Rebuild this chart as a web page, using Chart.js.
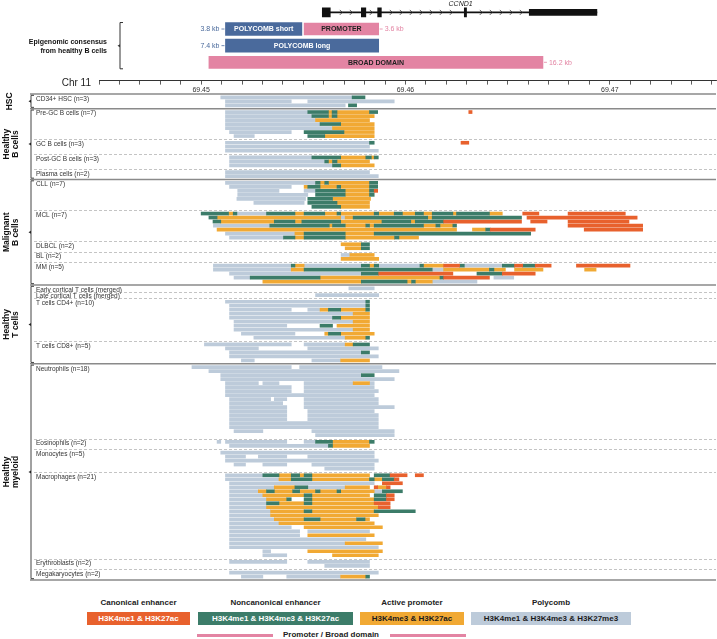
<!DOCTYPE html>
<html>
<head>
<meta charset="utf-8">
<script src="https://cdn.jsdelivr.net/npm/chart.js@4.4.1/dist/chart.umd.min.js"></script>
<style>
  body { margin: 0; background: #fff; font-family: "Liberation Sans", Arial, sans-serif; }
  #wrap { position: relative; width: 717px; height: 639px; overflow: hidden; }
  #topChart { position: absolute; left: 0; top: 0; }
  #rowsChart { position: absolute; left: 0; top: 80px; }
  .lg-title { position: absolute; top: 597px; height: 12px; line-height: 12px; font-size: 8px; font-weight: bold; color: #222; text-align: center; }
  .lg-box { position: absolute; top: 612px; height: 13px; line-height: 13px; font-size: 8px; font-weight: bold; text-align: center; }
  .lg-line { position: absolute; top: 634px; height: 3px; background: #e384a3; }
  .lg-pink { position: absolute; top: 630px; width: 110px; height: 10px; line-height: 10px; font-size: 8px; font-weight: bold; color: #222; text-align: center; }
</style>
</head>
<body>
<div id="wrap">
  <canvas id="topChart" width="717" height="95"></canvas>
  <canvas id="rowsChart" width="717" height="506"></canvas>
  <div id="legend"></div>
</div>
<script>
// all positions are in kb from chr11:69,450,000
const P = 'P', A = 'A', N = 'N', C = 'C';

const tickLabels = ['69.45', '69.46', '69.47'];
const tickLabelPos = [0, 10, 20];

const geneSpan = [5.93, 19.37];
const geneExons = [[5.93, 6.32], [7.84, 8.06], [8.64, 8.82], [12.88, 12.99]];
const geneUtr = [[16.06, 19.37]];

const consensusLabels = ['POLYCOMB short', 'PROMOTER', 'POLYCOMB long', 'BROAD DOMAIN'];
const consensusStart = [1.19, 5.04, 1.19, 0.38];
const consensusEnd = [4.93, 8.69, 8.69, 16.73];
const consensusSize = ['3.8 kb', '3.6 kb', '7.4 kb', '16.2 kb'];
const consensusKind = ['polycomb', 'promoter', 'polycomb', 'promoter'];

const stateKeys = [C, N, A, P];
const stateNames = ['Canonical enhancer', 'Noncanonical enhancer', 'Active promoter', 'Polycomb'];
const stateMarks = ['H3K4me1 & H3K27ac', 'H3K4me1 & H3K4me3 & H3K27ac', 'H3K4me3 & H3K27ac', 'H3K4me1 & H3K4me3 & H3K27me3'];

// one array per cell type, one entry per sample, [start, end, state]
const hscCD34 = [
  [[0.96, 7.39, P], [7.39, 8.02, N]],
  [[1.19, 4.41, P], [5.22, 9.45, P]],
  [[1.19, 7.05, P], [7.21, 7.61, N]]
];
const preGC = [
  [[1.19, 5.22, P], [5.22, 6.23, N], [6.23, 6.41, A], [6.41, 6.65, N], [6.65, 8.24, A], [8.24, 8.64, N], [13.10, 13.26, C]],
  [[1.19, 5.42, P], [5.42, 6.23, N], [6.23, 6.41, A], [6.41, 6.65, N], [6.65, 8.47, A]],
  [[1.19, 5.60, P], [5.60, 8.24, A]],
  [[1.19, 5.82, P], [5.82, 6.83, N], [6.83, 8.47, A]],
  [[1.19, 6.43, P], [6.43, 8.47, A]],
  [[1.39, 4.41, P], [5.04, 6.99, N], [6.99, 8.47, A]],
  [[1.61, 2.60, P], [5.22, 6.05, N], [6.05, 8.47, A]]
];
const gcB = [
  [[1.19, 8.24, P], [8.24, 8.47, N], [12.72, 13.10, C]],
  [[1.19, 8.24, P]],
  [[1.19, 8.67, P]]
];
const postGC = [
  [[1.39, 5.42, P], [5.42, 6.83, N], [6.83, 8.06, A], [8.06, 8.33, N], [8.33, 8.47, A], [8.47, 8.67, N]],
  [[1.39, 6.05, P], [6.05, 6.23, N], [6.23, 6.43, A], [6.43, 6.65, N], [6.65, 8.24, A]],
  [[1.39, 6.43, P], [6.43, 6.83, N], [6.83, 8.47, A]]
];
const plasma = [
  [[1.19, 8.24, P]],
  [[1.19, 8.67, P]]
];
const cll = [
  [[1.19, 5.60, P], [5.60, 5.82, N], [5.82, 6.05, A], [6.05, 6.23, N], [6.23, 8.24, A], [8.24, 8.64, N]],
  [[1.39, 4.41, P], [5.04, 5.22, A], [5.22, 5.82, N], [5.82, 6.65, A], [6.65, 6.83, N], [6.83, 8.24, A], [8.24, 8.64, N]],
  [[1.79, 3.81, P], [5.04, 5.60, P], [5.60, 7.05, N], [7.05, 8.24, A], [8.24, 8.47, N], [8.47, 8.64, C]],
  [[1.79, 5.22, P], [5.60, 7.05, N], [7.05, 8.24, A], [8.24, 8.47, N]],
  [[1.75, 5.11, P], [5.22, 6.43, N], [6.43, 8.29, A]],
  [[2.58, 5.04, P], [5.22, 6.65, N], [6.65, 8.24, A]],
  [[5.42, 6.83, N], [6.83, 8.24, A]]
];
const mcl = [
  [[0.00, 1.34, N], [1.34, 1.57, A], [1.57, 1.75, N], [1.75, 3.20, P], [3.20, 4.59, N], [4.59, 5.04, A], [5.04, 6.05, N], [6.05, 6.65, A], [6.65, 6.83, N], [6.83, 8.47, A], [8.47, 8.69, N], [8.69, 9.45, A], [9.45, 9.85, N], [9.85, 10.48, A], [10.48, 10.88, N], [10.88, 11.31, A], [11.31, 12.32, N], [12.32, 12.50, A], [12.50, 14.11, N], [14.11, 14.74, A], [15.74, 16.53, C], [17.96, 20.76, C]],
  [[0.38, 0.78, N], [0.78, 6.83, A], [6.83, 7.05, P], [7.05, 7.44, A], [7.44, 11.09, N], [11.09, 11.31, A], [11.31, 15.68, N], [15.95, 21.34, C]],
  [[0.58, 0.96, N], [0.96, 3.58, A], [3.58, 4.59, N], [4.59, 4.93, A], [4.93, 6.83, N], [6.83, 8.85, A], [8.85, 10.26, N], [10.26, 10.48, A], [10.48, 11.87, N], [11.87, 15.68, C], [16.13, 16.93, C], [17.96, 20.94, C]],
  [[0.60, 3.36, P], [3.36, 6.27, N], [6.27, 6.43, A], [6.43, 7.05, N], [7.05, 8.06, A], [8.06, 8.24, N], [8.24, 8.47, A], [8.47, 10.88, N], [10.88, 11.49, A], [11.49, 11.69, N], [11.69, 12.32, A], [12.32, 12.50, N], [17.96, 21.61, C]],
  [[0.78, 12.50, A], [13.28, 13.93, A], [13.93, 14.15, N], [14.15, 16.35, C], [18.75, 21.61, C]],
  [[1.19, 4.59, P], [4.59, 5.04, A], [5.04, 7.05, N], [7.05, 8.47, A], [8.47, 16.13, N]],
  [[1.39, 4.03, P], [4.03, 4.59, N], [4.59, 5.04, A], [5.04, 7.05, N], [7.05, 9.47, A], [9.47, 9.68, N], [9.68, 10.64, A]]
];
const dlbcl = [
  [[6.85, 7.84, A], [7.84, 8.24, N]],
  [[7.05, 7.84, A], [7.84, 8.24, N]]
];
const bl = [
  [[6.85, 7.28, P], [7.28, 8.47, A]],
  [[6.85, 8.69, A]]
];
const mm = [
  [[0.60, 4.41, P], [4.41, 4.59, N], [4.59, 5.04, A], [5.04, 7.84, P], [7.84, 8.24, N], [8.24, 8.47, A], [8.47, 8.69, N], [8.69, 10.71, P], [10.71, 10.88, N], [10.88, 11.87, A], [11.87, 12.65, C], [12.65, 12.88, N], [12.88, 14.74, P], [14.74, 15.34, N], [15.34, 15.74, C], [15.74, 16.35, N], [16.35, 17.13, C], [18.37, 20.99, C]],
  [[0.60, 4.41, P], [4.41, 5.04, A], [5.04, 11.31, N], [11.31, 11.87, P], [11.87, 14.11, A], [14.11, 14.33, N], [14.33, 14.89, A], [15.34, 16.73, A], [18.77, 19.33, A]],
  [[1.39, 7.84, P], [7.84, 8.69, N], [8.69, 12.32, C], [13.50, 14.74, N], [14.74, 16.35, C]],
  [[1.61, 2.40, P], [2.40, 5.82, N], [5.82, 11.69, A], [11.69, 11.87, N], [11.87, 14.11, C], [14.33, 15.30, P]],
  [[3.02, 7.84, A], [7.84, 10.08, N], [10.08, 10.30, A], [10.30, 10.48, N], [10.48, 11.31, A], [11.31, 13.50, P]]
];
const earlyT = [
  [[7.23, 8.47, P]]
];
const lateT = [
  [[5.60, 8.69, P]]
];
const cd4 = [
  [[1.19, 8.06, P], [8.06, 8.24, N]],
  [[1.39, 8.06, P], [8.06, 8.24, N]],
  [[1.39, 4.41, P], [5.22, 5.82, P], [5.82, 6.23, A], [6.23, 6.83, N], [6.83, 8.06, A], [8.06, 8.24, N]],
  [[1.39, 7.44, P], [7.44, 8.24, A]],
  [[1.39, 6.43, P], [6.43, 6.83, N], [6.83, 8.24, A]],
  [[1.61, 7.44, P], [7.44, 8.24, A]],
  [[1.61, 4.19, P], [5.82, 6.43, N], [6.65, 8.24, A]],
  [[1.61, 7.44, P], [7.44, 8.24, A]],
  [[1.97, 4.59, P], [6.05, 6.23, A], [6.23, 6.83, N], [6.83, 8.47, A]],
  [[2.58, 7.05, P], [7.05, 8.06, A], [8.06, 8.24, N]]
];
const cd8 = [
  [[0.16, 4.41, P], [5.04, 7.05, P], [7.05, 7.44, A], [7.44, 8.24, N]],
  [[1.19, 2.80, P], [5.22, 8.67, P]],
  [[1.39, 7.84, P], [7.84, 8.24, N]],
  [[1.39, 8.67, P]],
  [[1.97, 2.60, P], [5.42, 6.83, P], [6.83, 8.24, A]]
];
const neutro = [
  [[-0.45, 4.41, P], [4.82, 8.85, P]],
  [[0.38, 9.68, P]],
  [[0.96, 7.84, P], [7.84, 8.47, N]],
  [[0.96, 9.45, P]],
  [[1.19, 2.80, P], [3.02, 3.81, P], [5.04, 7.44, P], [7.44, 8.24, A], [8.24, 8.47, P]],
  [[1.19, 4.41, P], [5.04, 8.47, P]],
  [[1.19, 4.41, P], [5.04, 8.67, P]],
  [[1.19, 8.47, P]],
  [[1.39, 3.40, P], [3.58, 4.19, P], [5.04, 8.67, P]],
  [[1.39, 3.99, P], [5.04, 8.67, P]],
  [[1.39, 4.19, P], [5.04, 9.45, P]],
  [[1.39, 4.19, P], [5.22, 8.47, P]],
  [[1.39, 4.19, P], [5.22, 8.67, P]],
  [[1.39, 4.19, P], [5.22, 8.67, P]],
  [[1.39, 8.67, P]],
  [[1.39, 8.67, P]],
  [[1.61, 3.02, P], [5.42, 9.45, P]],
  [[5.60, 9.45, P]]
];
const eos = [
  [[0.78, 0.96, P], [1.19, 4.19, P], [5.04, 5.60, P], [5.60, 6.43, N], [6.43, 8.24, A], [8.24, 8.47, N]],
  [[1.39, 6.23, P], [6.23, 6.43, N], [6.43, 8.24, A]]
];
const mono = [
  [[0.96, 8.47, P]],
  [[1.19, 2.17, P], [2.80, 4.19, P], [5.22, 8.47, P]],
  [[1.19, 8.67, P]],
  [[1.61, 2.17, P], [3.02, 4.19, P], [5.42, 8.47, P]],
  [[6.05, 8.47, P]]
];
const macro = [
  [[1.19, 3.02, P], [3.02, 3.81, N], [3.81, 4.41, A], [4.41, 4.82, N], [4.82, 5.04, A], [5.04, 5.42, N], [5.42, 8.24, A], [8.47, 9.25, N], [9.25, 10.08, C], [10.48, 10.88, C]],
  [[1.19, 3.81, P], [3.81, 4.41, A], [4.41, 5.42, N], [5.42, 8.24, A], [8.24, 8.47, N], [8.47, 8.87, A], [8.87, 9.45, N], [9.45, 9.68, C]],
  [[1.39, 8.47, P], [8.87, 9.85, C]],
  [[1.39, 3.58, P], [3.58, 4.59, A], [4.59, 5.22, N], [5.22, 7.05, P], [7.05, 8.24, A], [8.47, 8.64, C], [8.64, 9.07, A], [9.07, 9.25, C]],
  [[1.39, 2.80, P], [2.80, 3.20, A], [3.20, 3.58, N], [3.58, 4.48, A], [4.48, 4.82, N], [4.82, 5.60, A], [5.60, 5.82, N], [5.82, 6.65, A], [6.65, 6.83, N], [6.83, 8.47, A], [8.47, 8.87, P], [8.87, 9.85, N]],
  [[1.39, 3.02, P], [3.02, 5.04, A], [5.04, 5.42, N], [5.42, 8.24, A], [8.47, 9.07, N], [9.07, 9.45, C]],
  [[1.39, 3.20, P], [3.20, 4.19, A], [4.19, 4.41, N], [5.04, 5.42, N], [5.42, 8.47, A], [8.47, 9.07, N], [9.07, 9.45, C]],
  [[1.39, 3.20, P], [3.20, 3.81, N], [3.81, 5.04, A], [5.04, 5.42, N], [5.42, 8.47, A], [8.47, 9.25, C]],
  [[1.39, 3.20, P], [3.20, 8.67, A], [8.67, 9.25, C]],
  [[1.39, 3.40, P], [3.40, 5.04, A], [5.04, 5.42, N], [5.42, 8.47, A], [8.47, 10.48, N]],
  [[1.39, 3.40, P], [3.40, 8.67, A]],
  [[1.39, 3.58, P], [3.58, 5.04, A], [5.04, 5.82, N], [5.82, 7.61, A], [7.61, 8.02, N], [8.02, 8.24, A]],
  [[1.39, 3.81, P], [3.81, 8.47, A]],
  [[1.39, 4.41, P], [5.04, 8.87, A]],
  [[1.39, 4.82, P], [5.22, 8.24, P]],
  [[1.39, 4.82, P], [5.22, 8.47, A]],
  [[1.39, 8.06, P]],
  [[1.39, 7.05, P], [7.05, 8.87, A]],
  [[1.39, 8.67, P]],
  [[3.02, 3.40, P], [5.22, 8.87, A]],
  [[3.02, 4.19, P], [6.43, 8.67, A]]
];
const ery = [
  [[1.39, 4.19, P], [5.22, 8.24, P]],
  [[6.05, 8.24, P]]
];
const mega = [
  [[1.39, 8.67, P]],
  [[1.97, 3.02, P], [4.19, 6.83, P], [6.83, 8.06, A], [8.06, 8.24, N]]
];

const groups = [
  { title: ['HSC'], subs: [['CD34+ HSC (n=3)', hscCD34]] },
  { title: ['Healthy', 'B cells'], subs: [['Pre-GC B cells (n=7)', preGC], ['GC B cells (n=3)', gcB], ['Post-GC B cells (n=3)', postGC], ['Plasma cells (n=2)', plasma]] },
  { title: ['Malignant', 'B cells'], subs: [['CLL (n=7)', cll], ['MCL (n=7)', mcl], ['DLBCL (n=2)', dlbcl], ['BL (n=2)', bl], ['MM (n=5)', mm]] },
  { title: ['Healthy', 'T cells'], subs: [['Early cortical T cells (merged)', earlyT], ['Late cortical T cells (merged)', lateT], ['T cells CD4+ (n=10)', cd4], ['T cells CD8+ (n=5)', cd8]] },
  { title: ['Healthy', 'myeloid'], subs: [['Neutrophils (n=18)', neutro], ['Eosinophils (n=2)', eos], ['Monocytes (n=5)', mono], ['Macrophages (n=21)', macro], ['Erythroblasts (n=2)', ery], ['Megakaryocytes (n=2)', mega]] }
];

// ---- styles / layout ----
const stateColors = { C: '#e8612d', N: '#3c7c69', A: '#f1a934', P: '#bdcbda' };
const BLUE = '#4a6a9c', PINK = '#e384a3';
const FONT = '"Liberation Sans", Arial, sans-serif';
const GAP = 0.675;
const consensusRow = [1, 1, 2, 3];
const X_MIN = -5, X_MAX = 25.2;
const TOP_Y = [-0.745, 4.1];
const ROWS_Y = [-0.5875, 122.1625];

Chart.defaults.font.family = FONT;

// pin a scale to exact bounds (no nice-number rounding)
const pin = (lo, hi) => ({
  min: lo, max: hi, bounds: 'data', offset: false, grace: 0,
  afterDataLimits: s => { s.min = lo; s.max = hi; },
  afterBuildTicks: s => { s.min = lo; s.max = hi; }
});

// row layout (y in row units)
const points = { C: [], N: [], A: [], P: [] };
const subLayout = [];
const groupLayout = [];
let cursor = 0;
groups.forEach(g => {
  const gFirst = cursor;
  g.subs.forEach(([label, rows]) => {
    const first = cursor;
    rows.forEach((segs, ri) => {
      segs.forEach(([s, e, st]) => points[st].push({ x: [s, e], y: first + ri }));
    });
    subLayout.push({ label, first, last: first + rows.length - 1 });
    cursor += rows.length + GAP;
  });
  groupLayout.push({ title: g.title, first: gFirst, last: cursor - GAP - 1, nSubs: g.subs.length });
});

const rulerTicks = [];
for (let v = -5; v <= 25; v++) rulerTicks.push(v);

// ---- top chart: gene, consensus, ruler ----
const topDecor = {
  id: 'topDecor',
  afterDatasetsDraw(chart) {
    const { ctx, scales: { x, y } } = chart;
    ctx.save();
    // intron chevrons
    const gy = y.getPixelForValue(0);
    const gx0 = x.getPixelForValue(geneSpan[0]), gx1 = x.getPixelForValue(geneSpan[1]);
    const blocks = geneExons.concat(geneUtr).map(([s, e]) => [x.getPixelForValue(s), x.getPixelForValue(e)]);
    ctx.strokeStyle = '#333';
    ctx.lineWidth = 0.8;
    for (let px = gx0 + 9; px < gx1 - 3; px += 10) {
      if (blocks.some(([a, b]) => px > a - 4 && px < b + 5)) continue;
      ctx.beginPath();
      ctx.moveTo(px - 1.5, gy - 2.5);
      ctx.lineTo(px + 1, gy);
      ctx.lineTo(px - 1.5, gy + 2.5);
      ctx.stroke();
    }
    ctx.fillStyle = '#222';
    ctx.font = 'italic 7px ' + FONT;
    ctx.textAlign = 'center';
    ctx.textBaseline = 'middle';
    ctx.fillText('CCND1', x.getPixelForValue(12.7), 4);

    // consensus labels
    consensusLabels.forEach((lab, i) => {
      const x0 = x.getPixelForValue(consensusStart[i]);
      const x1 = x.getPixelForValue(consensusEnd[i]);
      const yy = y.getPixelForValue(consensusRow[i]);
      const poly = consensusKind[i] === 'polycomb';
      ctx.font = 'bold 7px ' + FONT;
      ctx.textAlign = 'center';
      ctx.fillStyle = poly ? '#fff' : '#222';
      ctx.fillText(lab, (x0 + x1) / 2, yy + 0.5);
      ctx.font = '7px ' + FONT;
      ctx.fillStyle = poly ? BLUE : PINK;
      ctx.strokeStyle = poly ? BLUE : PINK;
      ctx.lineWidth = 0.8;
      ctx.beginPath();
      if (poly) {
        ctx.moveTo(x0 - 4, yy); ctx.lineTo(x0 - 1, yy);
        ctx.stroke();
        ctx.textAlign = 'right';
        ctx.fillText(consensusSize[i], x0 - 6, yy + 0.5);
      } else {
        ctx.moveTo(x1 + 1, yy); ctx.lineTo(x1 + 4, yy);
        ctx.stroke();
        ctx.textAlign = 'left';
        ctx.fillText(consensusSize[i], x1 + 6, yy + 0.5);
      }
    });

    // bracket
    const bTop = y.getPixelForValue(1) - 6.5, bBot = y.getPixelForValue(3) + 6.5, bx = 120;
    ctx.strokeStyle = '#333';
    ctx.lineWidth = 1;
    ctx.beginPath();
    ctx.moveTo(bx + 3, bTop); ctx.lineTo(bx, bTop); ctx.lineTo(bx, bBot); ctx.lineTo(bx + 3, bBot);
    ctx.stroke();
    const bMid = (bTop + bBot) / 2;
    ctx.fillStyle = '#333';
    ctx.beginPath();
    ctx.moveTo(bx, bMid - 1.5); ctx.lineTo(bx - 2.5, bMid); ctx.lineTo(bx, bMid + 1.5);
    ctx.fill();
    ctx.fillStyle = '#111';
    ctx.font = 'bold 7px ' + FONT;
    ctx.textAlign = 'right';
    ctx.fillText('Epigenomic consensus', 107, bMid - 4);
    ctx.fillText('from healthy B cells', 107, bMid + 5);

    ctx.font = '10px ' + FONT;
    ctx.fillStyle = '#222';
    ctx.fillText('Chr 11', 91, chart.chartArea.bottom + 3);
    ctx.restore();
  }
};

const consensusData = kind => consensusLabels
  .map((_, i) => ({ x: [consensusStart[i], consensusEnd[i]], y: consensusRow[i], kind: consensusKind[i] }))
  .filter(d => d.kind === kind);

new Chart(document.getElementById('topChart'), {
  type: 'bar',
  data: {
    datasets: [
      { data: [{ x: geneSpan, y: 0 }], backgroundColor: '#111', barThickness: 1.2 },
      { data: geneExons.map(e => ({ x: e, y: 0 })), backgroundColor: '#111', barThickness: 9 },
      { data: geneUtr.map(e => ({ x: e, y: 0 })), backgroundColor: '#111', barThickness: 6 },
      { data: consensusData('polycomb'), backgroundColor: BLUE, barThickness: 13 },
      { data: consensusData('promoter'), backgroundColor: PINK, barThickness: 12 }
    ]
  },
  options: {
    indexAxis: 'y',
    responsive: false,
    animation: false,
    datasets: { bar: { grouped: false, borderWidth: 0 } },
    layout: { padding: { left: 99, right: 1, top: 0, bottom: 0 } },
    scales: {
      x: {
        type: 'linear', position: 'bottom', min: X_MIN, max: X_MAX, bounds: 'data',
        afterDataLimits: s => { s.min = X_MIN; s.max = X_MAX; },
        afterBuildTicks: s => { s.min = X_MIN; s.max = X_MAX; s.ticks = rulerTicks.map(v => ({ value: v })); },
        grid: { drawOnChartArea: false, drawTicks: true, tickLength: 4, color: '#333', lineWidth: 0.8 },
        border: { display: true, color: '#333', width: 1 },
        ticks: {
          autoSkip: false, maxRotation: 0, padding: 1, color: '#333', font: { size: 7 },
          callback: v => {
            const k = tickLabelPos.indexOf(v);
            return k >= 0 ? tickLabels[k] : '';
          }
        }
      },
      y: Object.assign({ type: 'linear', display: false, reverse: true }, pin(TOP_Y[0], TOP_Y[1]))
    },
    plugins: { legend: { display: false }, tooltip: { enabled: false } }
  },
  plugins: [topDecor]
});

// ---- rows chart ----
const rowDecor = {
  id: 'rowDecor',
  afterDatasetsDraw(chart) {
    const { ctx, scales: { y } } = chart;
    const right = chart.chartArea.right;
    ctx.save();
    // separators
    let si = 0;
    groupLayout.forEach((g, gi) => {
      const top = y.getPixelForValue(g.first - 0.5 - GAP / 2);
      ctx.setLineDash([]);
      ctx.strokeStyle = '#8a8a8a';
      ctx.lineWidth = 1.5;
      ctx.beginPath(); ctx.moveTo(30, top); ctx.lineTo(right, top); ctx.stroke();
      for (let k = 0; k < g.nSubs - 1; k++) {
        const s = subLayout[si + k];
        const yy = Math.round(y.getPixelForValue(s.last + 0.5 + GAP / 2)) + 0.5;
        ctx.setLineDash([3, 2]);
        ctx.strokeStyle = '#c4c4c4';
        ctx.lineWidth = 1;
        ctx.beginPath(); ctx.moveTo(34, yy); ctx.lineTo(right, yy); ctx.stroke();
      }
      si += g.nSubs;
      if (gi === groupLayout.length - 1) {
        const bot = y.getPixelForValue(g.last + 0.5 + GAP / 2);
        ctx.setLineDash([]);
        ctx.strokeStyle = '#8a8a8a';
        ctx.lineWidth = 1.5;
        ctx.beginPath(); ctx.moveTo(30, bot); ctx.lineTo(right, bot); ctx.stroke();
      }
    });
    ctx.setLineDash([]);

    // sub labels
    ctx.fillStyle = '#333';
    ctx.font = '6.5px ' + FONT;
    ctx.textAlign = 'left';
    ctx.textBaseline = 'middle';
    subLayout.forEach(s => ctx.fillText(s.label, 36, y.getPixelForValue(s.first + 0.4)));

    // brackets and group titles
    groupLayout.forEach(g => {
      const t = y.getPixelForValue(g.first - 0.5), b = y.getPixelForValue(g.last + 0.5);
      const bx = 31, mid = (t + b) / 2;
      ctx.strokeStyle = '#444';
      ctx.lineWidth = 1;
      ctx.beginPath();
      ctx.moveTo(bx + 3, t); ctx.lineTo(bx, t); ctx.lineTo(bx, b); ctx.lineTo(bx + 3, b);
      ctx.stroke();
      ctx.fillStyle = '#222';
      ctx.beginPath();
      ctx.moveTo(bx, mid - 1.5); ctx.lineTo(bx - 2.5, mid); ctx.lineTo(bx, mid + 1.5);
      ctx.fill();
      ctx.save();
      ctx.translate(g.title.length > 1 ? 11 : 10, mid);
      ctx.rotate(-Math.PI / 2);
      ctx.font = 'bold 8.5px ' + FONT;
      ctx.fillStyle = '#111';
      ctx.textAlign = 'center';
      ctx.textBaseline = 'middle';
      g.title.forEach((line, li) => ctx.fillText(line, 0, (li - (g.title.length - 1) / 2) * 9.5));
      ctx.restore();
    });
    ctx.restore();
  }
};

new Chart(document.getElementById('rowsChart'), {
  type: 'bar',
  data: {
    datasets: stateKeys.map(k => ({
      label: k,
      data: points[k],
      backgroundColor: stateColors[k],
      barThickness: 3
    }))
  },
  options: {
    indexAxis: 'y',
    responsive: false,
    animation: false,
    datasets: { bar: { grouped: false, borderWidth: 0 } },
    layout: { padding: { left: 99, right: 1, top: 15, bottom: 0 } },
    scales: {
      x: Object.assign({ type: 'linear', display: false }, pin(X_MIN, X_MAX)),
      y: Object.assign({ type: 'linear', display: false, reverse: true }, pin(ROWS_Y[0], ROWS_Y[1]))
    },
    plugins: { legend: { display: false }, tooltip: { enabled: false } }
  },
  plugins: [rowDecor]
});

// ---- legend ----
const legendX = [[87, 190], [198, 353], [360, 464], [471, 631]];
const legendText = ['#fff', '#fff', '#1a1a1a', '#1a1a1a'];
const lg = document.getElementById('legend');
stateKeys.forEach((k, i) => {
  const [l, r] = legendX[i];
  const t = document.createElement('div');
  t.className = 'lg-title';
  t.style.left = l + 'px'; t.style.width = (r - l) + 'px';
  t.textContent = stateNames[i];
  lg.appendChild(t);
  const b = document.createElement('div');
  b.className = 'lg-box';
  b.style.left = l + 'px'; b.style.width = (r - l) + 'px';
  b.style.background = stateColors[k]; b.style.color = legendText[i];
  b.textContent = stateMarks[i];
  lg.appendChild(b);
});
[[197, 273], [390, 466]].forEach(([l, r]) => {
  const d = document.createElement('div');
  d.className = 'lg-line';
  d.style.left = l + 'px'; d.style.width = (r - l) + 'px';
  lg.appendChild(d);
});
const pl = document.createElement('div');
pl.className = 'lg-pink';
pl.style.left = '276px';
pl.textContent = 'Promoter / Broad domain';
lg.appendChild(pl);
</script>
</body>
</html>
